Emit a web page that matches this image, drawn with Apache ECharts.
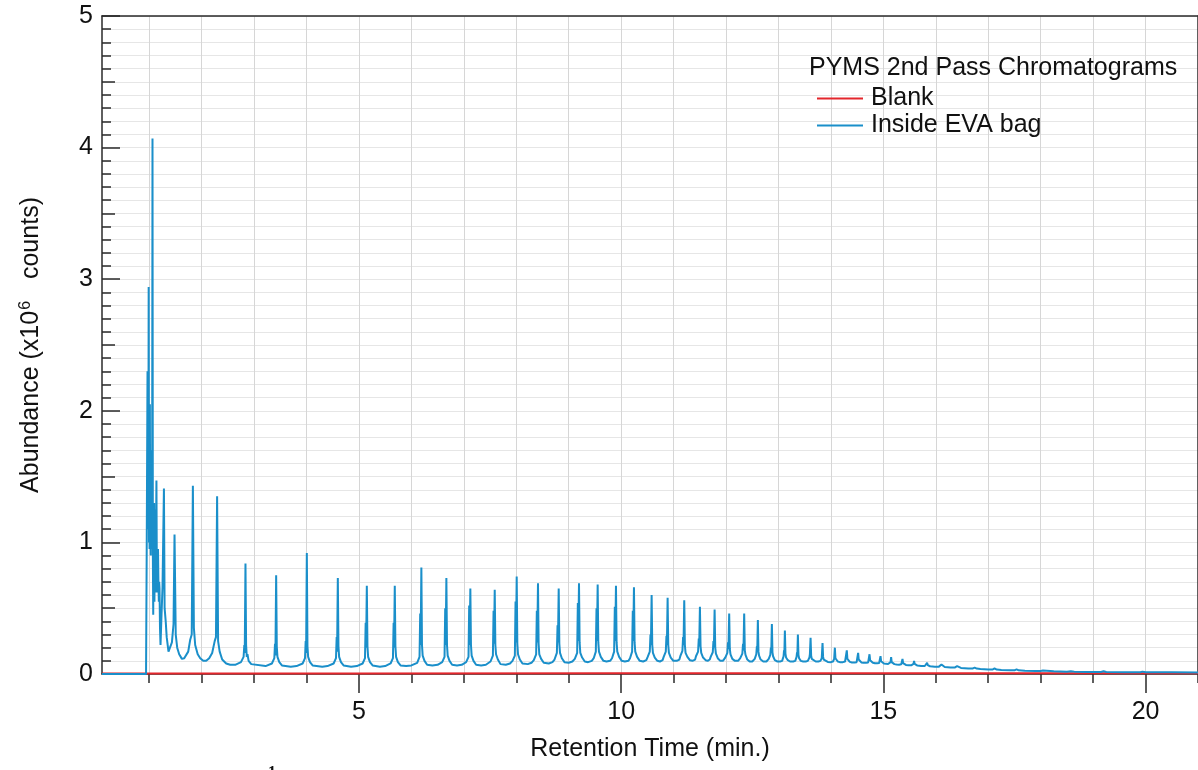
<!DOCTYPE html>
<html>
<head>
<meta charset="utf-8">
<script src="https://cdn.jsdelivr.net/npm/echarts@6/dist/echarts.min.js"></script>
<style>
html,body{margin:0;padding:0;background:#fff;}
#chart{width:1198px;height:770px;}
</style>
</head>
<body>
<div id="chart"></div>
<script>
// ---- data ----
const seriesNames = ['Blank', 'Inside EVA bag'];
const legendTitle = 'PYMS 2nd Pass Chromatograms';
const xAxisTitle = 'Retention Time (min.)';
const xRange = [0.1, 21];
const yRange = [0, 5];
const xMinuteTicks = [1,2,3,4,5,6,7,8,9,10,11,12,13,14,15,16,17,18,19,20,21];
const xLabelTicks = [5, 10, 15, 20];

// Blank chromatogram (retention time min, abundance x10^6)
const blankTrace = [[0.1,0.004],[1.0,0.004],[5,0.004],[10,0.005],[15,0.005],[21,0.006]];

// Inside EVA bag chromatogram (retention time min, abundance x10^6)
const insideEvaTrace = [
[0.10,0],[0.94,0],[0.952,0.9],[0.960,1.6],[0.968,2.30],[0.973,1.1],[0.978,1.7],[0.984,1.2],[0.99,2.94],[0.996,1.0],[1.002,1.8],[1.007,0.95],[1.013,2.05],[1.019,1.1],[1.025,1.6],[1.030,0.9],[1.036,1.7],[1.042,1.0],[1.048,1.3],[1.055,0.95],[1.063,4.07],[1.070,0.9],[1.077,0.45],[1.083,1.2],[1.088,0.8],[1.094,1.3],[1.10,0.55],[1.106,1.0],[1.111,1.25],[1.116,0.7],[1.121,0.62],[1.128,0.9],[1.138,1.47],[1.146,0.75],[1.153,0.62],[1.160,0.85],[1.168,0.95],[1.176,0.7],[1.184,0.55],[1.19,0.7],[1.197,0.65],[1.206,0.35],[1.216,0.22],[1.235,0.45],[1.254,0.66],[1.281,1.41],[1.294,0.50],[1.315,0.40],[1.334,0.28],[1.368,0.17],[1.401,0.17],[1.433,0.24],[1.464,0.38],[1.483,1.06],[1.506,0.30],[1.534,0.20],[1.572,0.15],[1.624,0.115],[1.668,0.12],[1.706,0.135],[1.744,0.17],[1.782,0.26],[1.811,0.30],[1.833,1.43],[1.852,0.35],[1.877,0.22],[1.925,0.15],[1.973,0.12],[2.03,0.10],[2.087,0.10],[2.144,0.12],[2.201,0.16],[2.249,0.25],[2.273,0.28],[2.295,1.35],[2.314,0.25],[2.344,0.17],[2.392,0.11],[2.468,0.08],[2.544,0.07],
[2.64,0.07],[2.75,0.09],[2.80,0.13],[2.814,0.22],[2.822,0.16],[2.836,0.84],[2.848,0.22],[2.861,0.13],[2.874,0.15],[2.896,0.10],[2.946,0.075],
[3.22,0.06],[3.34,0.08],[3.386,0.12],[3.399,0.23],[3.407,0.14],[3.421,0.75],[3.433,0.21],[3.446,0.13],[3.459,0.14],[3.481,0.09],[3.531,0.065],
[3.70,0.055],[3.81,0.06],[3.926,0.08],[3.971,0.12],[3.984,0.25],[3.992,0.16],[4.006,0.92],[4.018,0.21],[4.031,0.13],[4.044,0.14],[4.066,0.09],[4.116,0.065],
[4.30,0.055],[4.40,0.06],[4.517,0.08],[4.562,0.12],[4.575,0.28],[4.583,0.17],[4.597,0.73],[4.609,0.21],[4.622,0.13],[4.635,0.14],[4.657,0.09],[4.707,0.065],
[4.85,0.055],[4.96,0.06],[5.07,0.08],[5.115,0.12],[5.128,0.39],[5.136,0.20],[5.150,0.67],[5.162,0.21],[5.175,0.13],[5.188,0.14],[5.21,0.09],[5.26,0.065],
[5.40,0.055],[5.50,0.06],[5.603,0.08],[5.648,0.12],[5.661,0.39],[5.669,0.20],[5.683,0.67],[5.695,0.21],[5.708,0.13],[5.721,0.14],[5.743,0.09],[5.793,0.065],
[5.90,0.06],[6.00,0.065],[6.11,0.085],[6.155,0.13],[6.168,0.46],[6.176,0.22],[6.190,0.81],[6.202,0.22],[6.215,0.14],[6.228,0.15],[6.25,0.10],[6.30,0.07],
[6.40,0.065],[6.50,0.07],[6.587,0.09],[6.632,0.13],[6.645,0.50],[6.653,0.22],[6.667,0.73],[6.679,0.22],[6.692,0.14],[6.705,0.15],[6.727,0.10],[6.777,0.07],
[6.87,0.065],[6.96,0.07],[7.044,0.09],[7.089,0.13],[7.102,0.52],[7.110,0.22],[7.124,0.65],[7.136,0.22],[7.149,0.14],[7.162,0.15],[7.184,0.10],[7.234,0.07],
[7.33,0.065],[7.42,0.07],[7.509,0.095],[7.554,0.14],[7.567,0.48],[7.575,0.23],[7.589,0.64],[7.601,0.22],[7.614,0.15],[7.627,0.16],[7.649,0.11],[7.699,0.075],
[7.80,0.07],[7.88,0.08],[7.928,0.10],[7.973,0.14],[7.986,0.55],[7.994,0.24],[8.008,0.74],[8.020,0.23],[8.033,0.15],[8.046,0.16],[8.068,0.11],[8.118,0.08],
[8.22,0.075],[8.29,0.085],[8.334,0.105],[8.379,0.15],[8.392,0.48],[8.400,0.24],[8.414,0.69],[8.426,0.23],[8.439,0.15],[8.452,0.16],[8.474,0.115],[8.524,0.085],
[8.62,0.08],[8.69,0.09],[8.729,0.11],[8.774,0.16],[8.787,0.37],[8.795,0.24],[8.809,0.65],[8.821,0.23],[8.834,0.16],[8.847,0.17],[8.869,0.12],[8.919,0.09],
[9.00,0.085],[9.07,0.095],[9.116,0.115],[9.161,0.16],[9.174,0.54],[9.182,0.25],[9.196,0.69],[9.208,0.24],[9.221,0.16],[9.234,0.17],[9.256,0.125],[9.306,0.095],
[9.37,0.09],[9.44,0.10],[9.477,0.12],[9.517,0.17],[9.530,0.50],[9.538,0.25],[9.552,0.68],[9.564,0.24],[9.577,0.17],[9.590,0.18],[9.612,0.13],[9.662,0.10],
[9.72,0.095],[9.79,0.10],[9.826,0.12],[9.866,0.17],[9.879,0.51],[9.887,0.25],[9.901,0.67],[9.913,0.24],[9.926,0.17],[9.939,0.18],[9.961,0.13],[10.011,0.10],
[10.07,0.095],[10.14,0.10],[10.169,0.12],[10.209,0.17],[10.222,0.48],[10.230,0.25],[10.244,0.66],[10.256,0.24],[10.269,0.17],[10.282,0.18],[10.304,0.13],[10.354,0.10],
[10.42,0.095],[10.48,0.105],[10.506,0.13],[10.546,0.17],[10.559,0.30],[10.567,0.22],[10.581,0.60],[10.593,0.22],[10.606,0.16],[10.619,0.16],[10.641,0.125],[10.69,0.10],
[10.74,0.095],[10.79,0.105],[10.811,0.13],[10.851,0.17],[10.864,0.29],[10.872,0.22],[10.886,0.58],[10.898,0.22],[10.911,0.16],[10.924,0.16],[10.946,0.125],[10.995,0.10],
[11.06,0.10],[11.11,0.11],[11.128,0.135],[11.168,0.175],[11.181,0.28],[11.189,0.22],[11.203,0.56],[11.215,0.22],[11.228,0.16],[11.241,0.165],[11.263,0.13],[11.31,0.105],
[11.36,0.10],[11.41,0.11],[11.427,0.135],[11.467,0.17],[11.480,0.27],[11.488,0.21],[11.502,0.51],[11.514,0.21],[11.527,0.16],[11.540,0.16],[11.562,0.125],[11.61,0.105],
[11.65,0.10],[11.69,0.11],[11.707,0.13],[11.747,0.165],[11.760,0.25],[11.768,0.20],[11.782,0.49],[11.794,0.20],[11.807,0.155],[11.820,0.155],[11.842,0.12],[11.89,0.10],
[11.94,0.10],[11.97,0.105],[11.985,0.125],[12.025,0.16],[12.038,0.24],[12.046,0.19],[12.060,0.46],[12.072,0.19],[12.085,0.15],[12.098,0.15],[12.12,0.115],[12.17,0.10],
[12.23,0.10],[12.26,0.105],[12.271,0.12],[12.311,0.155],[12.324,0.23],[12.332,0.18],[12.346,0.46],[12.358,0.18],[12.371,0.145],[12.384,0.145],[12.406,0.11],[12.45,0.095],
[12.50,0.095],[12.53,0.10],[12.547,0.115],[12.577,0.15],[12.588,0.21],[12.595,0.17],[12.607,0.41],[12.618,0.17],[12.630,0.14],[12.642,0.14],[12.66,0.11],[12.71,0.095],
[12.77,0.095],[12.80,0.10],[12.814,0.115],[12.844,0.145],[12.855,0.20],[12.862,0.16],[12.874,0.38],[12.885,0.165],[12.897,0.135],[12.909,0.135],[12.93,0.105],[12.98,0.095],
[13.03,0.095],[13.07,0.10],[13.097,0.135],[13.106,0.18],[13.112,0.15],[13.122,0.33],[13.133,0.155],[13.145,0.125],[13.157,0.13],[13.178,0.105],[13.22,0.095],
[13.28,0.095],[13.32,0.10],[13.345,0.13],[13.354,0.165],[13.360,0.14],[13.370,0.30],[13.381,0.145],[13.393,0.12],[13.405,0.125],[13.426,0.10],[13.47,0.095],
[13.52,0.095],[13.56,0.10],[13.590,0.125],[13.599,0.15],[13.604,0.135],[13.612,0.275],[13.623,0.14],[13.635,0.115],[13.647,0.12],[13.668,0.10],[13.71,0.095],
[13.76,0.095],[13.80,0.10],[13.825,0.12],[13.832,0.135],[13.840,0.235],[13.851,0.13],[13.863,0.11],[13.875,0.115],[13.896,0.10],[13.94,0.092],
[14.00,0.09],[14.04,0.095],[14.062,0.115],[14.075,0.20],[14.086,0.12],[14.098,0.105],[14.11,0.11],[14.13,0.095],[14.17,0.09],
[14.23,0.09],[14.27,0.095],[14.291,0.11],[14.303,0.18],[14.314,0.115],[14.326,0.10],[14.338,0.105],[14.36,0.092],[14.40,0.088],
[14.45,0.087],[14.49,0.09],[14.508,0.105],[14.519,0.16],[14.530,0.11],[14.542,0.097],[14.555,0.10],[14.58,0.088],[14.62,0.085],
[14.67,0.085],[14.71,0.088],[14.725,0.10],[14.736,0.15],[14.747,0.105],[14.76,0.093],[14.772,0.095],[14.80,0.085],[14.84,0.082],
[14.88,0.081],[14.92,0.084],[14.935,0.095],[14.946,0.135],[14.957,0.097],[14.97,0.087],[14.982,0.089],[15.01,0.08],[15.05,0.077],
[15.09,0.076],[15.125,0.079],[15.137,0.09],[15.148,0.128],[15.159,0.09],[15.172,0.081],[15.185,0.083],[15.21,0.075],[15.25,0.072],
[15.30,0.071],[15.342,0.074],[15.354,0.083],[15.365,0.115],[15.376,0.083],[15.39,0.075],[15.403,0.077],[15.43,0.069],[15.48,0.066],
[15.53,0.066],[15.565,0.069],[15.575,0.077],[15.586,0.10],[15.597,0.077],[15.612,0.069],[15.625,0.07],[15.65,0.064],[15.72,0.061],
[15.79,0.061],[15.822,0.068],[15.834,0.085],[15.846,0.068],[15.865,0.064],[15.89,0.059],[15.98,0.056],
[16.06,0.056],[16.096,0.062],[16.108,0.072],[16.12,0.062],[16.14,0.058],[16.17,0.053],[16.28,0.049],
[16.36,0.049],[16.394,0.053],[16.406,0.06],[16.418,0.053],[16.44,0.05],[16.48,0.046],[16.62,0.041],
[16.70,0.041],[16.728,0.044],[16.74,0.048],[16.752,0.044],[16.78,0.041],[16.85,0.038],[17.0,0.034],
[17.08,0.034],[17.108,0.037],[17.12,0.042],[17.132,0.037],[17.16,0.034],[17.25,0.031],[17.42,0.028],
[17.50,0.028],[17.528,0.031],[17.54,0.035],[17.552,0.031],[17.58,0.028],[17.7,0.025],[17.9,0.023],
[18.0,0.023],[18.018,0.026],[18.03,0.029],[18.042,0.026],[18.07,0.023],[18.25,0.02],[18.5,0.018],
[18.575,0.021],[18.59,0.024],[18.605,0.021],[18.64,0.018],[18.9,0.016],[19.15,0.015],
[19.185,0.018],[19.20,0.021],[19.215,0.018],[19.25,0.015],[19.6,0.014],[19.9,0.013],
[19.94,0.018],[19.96,0.015],[20.0,0.013],[20.5,0.013],[21.0,0.012]
];

// ---- chart ----
const FONT = "'Liberation Sans', Arial, sans-serif";
const AXIS_COLOR = '#2a2a2a';
const chart = echarts.init(document.getElementById('chart'), null, {renderer: 'canvas'});

const hiddenLine = {show: false};
const option = {
  animation: false,
  backgroundColor: '#ffffff',
  textStyle: {fontFamily: FONT},
  grid: {left: 102, top: 16, right: 0, bottom: 96, containLabel: false},
  legend: {
    data: seriesNames,
    orient: 'vertical',
    left: 812,
    top: 81,
    icon: 'rect',
    itemWidth: 46,
    itemHeight: 2,
    itemGap: 2,
    z: 10,
    textStyle: {fontFamily: FONT, fontSize: 25, color: '#111', padding: [0, 0, 0, 3]}
  },
  graphic: [
    {type: 'text', left: 809, top: 56, z: 100, silent: true,
     style: {text: legendTitle, font: "25px 'Liberation Sans', Arial, sans-serif", fill: '#111'}},
    {type: 'text', left: 268, top: 765, z: 100, silent: true,
     style: {text: '1', font: "bold 16px 'Liberation Serif', serif", fill: '#111'}}
  ],
  xAxis: [
    {
      type: 'value', min: xRange[0], max: xRange[1], position: 'bottom',
      axisLine: {show: true, onZero: false, lineStyle: {color: AXIS_COLOR, width: 1.5}},
      axisTick: {show: true, inside: false, length: 19, customValues: xLabelTicks, lineStyle: {color: AXIS_COLOR, width: 1.5}},
      axisLabel: {show: true, customValues: xLabelTicks, fontSize: 25, color: '#111', margin: 26, fontFamily: FONT},
      splitLine: {show: false},
      name: xAxisTitle, nameLocation: 'middle', nameGap: 63,
      nameTextStyle: {fontSize: 25, color: '#111', fontFamily: FONT}
    },
    {
      type: 'value', min: xRange[0], max: xRange[1], position: 'bottom',
      axisLine: hiddenLine,
      axisTick: {show: true, inside: false, length: 9, customValues: xMinuteTicks, lineStyle: {color: AXIS_COLOR, width: 1.5}},
      axisLabel: {show: false, customValues: xMinuteTicks},
      splitLine: {show: true, lineStyle: {color: '#d6d6d6', width: 1}}
    },
    {
      type: 'value', min: xRange[0], max: xRange[1], position: 'top',
      axisLine: {show: true, onZero: false, lineStyle: {color: AXIS_COLOR, width: 1.5}},
      axisTick: {show: false}, axisLabel: {show: false}, splitLine: {show: false}
    }
  ],
  yAxis: [
    {
      type: 'value', min: yRange[0], max: yRange[1], interval: 1, position: 'left',
      axisLine: {show: true, onZero: false, lineStyle: {color: AXIS_COLOR, width: 1.5}},
      axisTick: {show: true, inside: true, length: 18, lineStyle: {color: AXIS_COLOR, width: 1.5}},
      axisLabel: {show: true, fontSize: 25, color: '#111', margin: 9, fontFamily: FONT},
      splitLine: {show: false},
      name: 'Abundance (x10{sup|6} counts)', nameLocation: 'middle', nameGap: 57,
      nameTextStyle: {fontSize: 25, color: '#111', fontFamily: FONT,
        rich: {sup: {fontSize: 16, verticalAlign: 'top', padding: [0, 15, 11, 1], color: '#111', fontFamily: FONT}}}
    },
    {
      type: 'value', min: yRange[0], max: yRange[1], interval: 0.5, position: 'left',
      axisLine: hiddenLine,
      axisTick: {show: true, inside: true, length: 13, lineStyle: {color: AXIS_COLOR, width: 1.5}},
      axisLabel: {show: false}, splitLine: {show: false}
    },
    {
      type: 'value', min: yRange[0], max: yRange[1], interval: 0.1, position: 'left',
      axisLine: hiddenLine,
      axisTick: {show: true, inside: true, length: 9, lineStyle: {color: AXIS_COLOR, width: 1.5}},
      axisLabel: {show: false},
      splitLine: {show: true, lineStyle: {color: '#e6e6e6', width: 1}}
    },
    {
      type: 'value', min: yRange[0], max: yRange[1], position: 'right',
      axisLine: {show: true, onZero: false, lineStyle: {color: AXIS_COLOR, width: 1.5}},
      axisTick: {show: false}, axisLabel: {show: false}, splitLine: {show: false}
    }
  ],
  series: [
    {
      name: seriesNames[0], type: 'line', xAxisIndex: 0, yAxisIndex: 0,
      data: blankTrace, showSymbol: false, symbol: 'none',
      lineStyle: {color: '#e3262c', width: 2}, itemStyle: {color: '#e3262c'}, z: 3
    },
    {
      name: seriesNames[1], type: 'line', xAxisIndex: 0, yAxisIndex: 0,
      data: insideEvaTrace, showSymbol: false, symbol: 'none',
      lineStyle: {color: '#1a8fca', width: 2}, itemStyle: {color: '#1a8fca'}, z: 4
    }
  ]
};
chart.setOption(option);
</script>
</body>
</html>
